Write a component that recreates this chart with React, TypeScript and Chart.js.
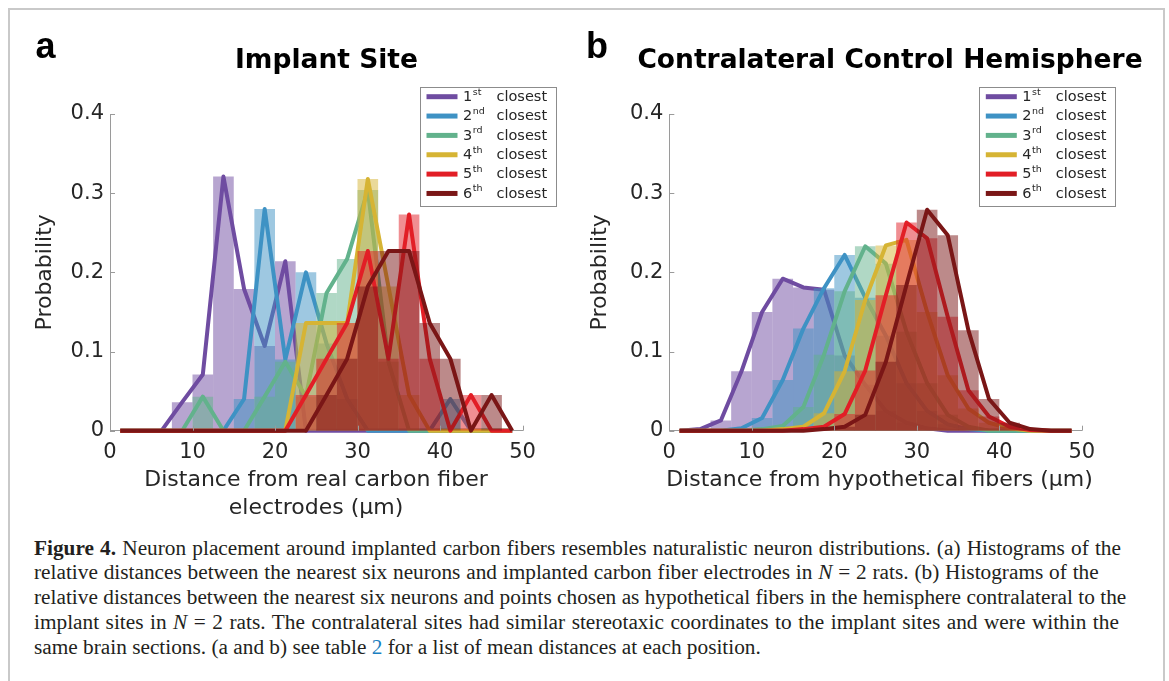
import React, { useEffect, useRef } from 'react';
import { Chart, registerables } from 'chart.js';

Chart.register(...registerables);

// ---------- data ----------
const binCenters = [1.25, 3.75, 6.25, 8.75, 11.25, 13.75, 16.25, 18.75, 21.25, 23.75, 26.25, 28.75, 31.25, 33.75, 36.25, 38.75, 41.25, 43.75, 46.25, 48.75];

const seriesNumbers = ['1', '2', '3', '4', '5', '6'];
const seriesSuffixes = ['st', 'nd', 'rd', 'th', 'th', 'th'];
const seriesWord = 'closest';
const seriesRGB = [
  [111, 76, 161],
  [62, 146, 196],
  [98, 178, 140],
  [214, 180, 52],
  [226, 30, 38],
  [122, 22, 22],
];

const yTickValues = [0, 0.1, 0.2, 0.3, 0.4];
const xTickValues = [0, 10, 20, 30, 40, 50];

// Panel a: implant site
const implant1st = [0, 0, 0, 0.036, 0.071, 0.321, 0.179, 0.107, 0.214, 0, 0, 0, 0, 0, 0, 0, 0, 0, 0, 0];
const implant2nd = [0, 0, 0, 0, 0, 0, 0.04, 0.28, 0.09, 0.2, 0.11, 0.04, 0, 0, 0, 0, 0.04, 0, 0, 0];
const implant3rd = [0, 0, 0, 0, 0.043, 0, 0, 0.043, 0.087, 0.043, 0.174, 0.217, 0.304, 0.087, 0, 0, 0, 0, 0, 0];
const implant4th = [0, 0, 0, 0, 0, 0, 0, 0, 0, 0.136, 0.136, 0.136, 0.318, 0.182, 0.045, 0, 0, 0, 0, 0];
const implant5th = [0, 0, 0, 0, 0, 0, 0, 0, 0, 0.045, 0.091, 0.136, 0.227, 0.091, 0.273, 0.091, 0, 0.045, 0, 0];
const implant6th = [0, 0, 0, 0, 0, 0, 0, 0, 0, 0, 0.045, 0.091, 0.182, 0.227, 0.227, 0.136, 0.091, 0, 0.045, 0];

// Panel b: contralateral control hemisphere
const contra1st = [0, 0.002, 0.013, 0.075, 0.15, 0.192, 0.181, 0.178, 0.095, 0.058, 0.025, 0.01, 0.003, 0, 0, 0, 0, 0, 0, 0];
const contra2nd = [0, 0, 0, 0.003, 0.016, 0.064, 0.129, 0.18, 0.222, 0.168, 0.12, 0.06, 0.025, 0.008, 0.002, 0, 0, 0, 0, 0];
const contra3rd = [0, 0, 0, 0, 0.002, 0.006, 0.03, 0.096, 0.176, 0.233, 0.211, 0.125, 0.06, 0.02, 0.005, 0, 0, 0, 0, 0];
const contra4th = [0, 0, 0, 0, 0, 0.002, 0.005, 0.022, 0.075, 0.165, 0.234, 0.241, 0.15, 0.07, 0.028, 0.01, 0.003, 0, 0, 0];
const contra5th = [0, 0, 0, 0, 0, 0, 0.002, 0.005, 0.021, 0.076, 0.171, 0.263, 0.243, 0.144, 0.051, 0.018, 0.005, 0.001, 0, 0];
const contra6th = [0, 0, 0, 0, 0, 0, 0, 0.002, 0.005, 0.02, 0.087, 0.184, 0.279, 0.247, 0.127, 0.04, 0.01, 0.002, 0, 0];

// ---------- style ----------
const FONT = '"DejaVu Sans", Verdana, sans-serif';
const TEXT = '#262626';
const AXIS = '#9a9a9a';

type Box = { l: number; t: number; r: number; b: number };

const rgba = (c: number[], a: number) => `rgba(${c[0]},${c[1]},${c[2]},${a})`;

function buildDatasets(series: number[][]) {
  const ds: any[] = [];
  series.forEach((vals, i) => {
    const pts = binCenters.map((x, k) => ({ x, y: vals[k] }));
    ds.push({
      type: 'bar',
      data: pts,
      backgroundColor: rgba(seriesRGB[i], 0.5),
      borderWidth: 0,
      grouped: false,
      barPercentage: 1,
      categoryPercentage: 1,
      inflateAmount: 0,
      order: 2 * (5 - i) + 1,
    });
    ds.push({
      type: 'line',
      data: pts,
      borderColor: rgba(seriesRGB[i], 1),
      borderWidth: 4,
      borderJoinStyle: 'round',
      pointRadius: 0,
      fill: false,
      tension: 0,
      clip: false,
      order: 2 * (5 - i),
    });
  });
  return ds;
}

interface PanelProps {
  left: number;
  top: number;
  width: number;
  height: number;
  area: Box;
  series: number[][];
  title: string;
  titleX: number;
  titleY: number;
  yTitleX: number;
  xTitleLines: string[];
  xTitleX: number;
  xTitleY: number;
  letter: string;
  letterX: number;
  letterY: number;
}

function Panel(p: PanelProps) {
  const ref = useRef<HTMLCanvasElement>(null);
  useEffect(() => {
    const canvas = ref.current;
    if (!canvas) return;
    const aL = p.area.l - p.left;
    const aT = p.area.t - p.top;
    const aR = p.area.r - p.left;
    const aB = p.area.b - p.top;
    const ox = p.left;
    const oy = p.top;

    const deco = {
      id: 'deco',
      afterDraw(chart: any) {
        const ctx = chart.ctx as CanvasRenderingContext2D;
        const a = chart.chartArea;
        const ys = chart.scales.y;
        const xs = chart.scales.x;
        ctx.save();
        // inward ticks
        ctx.strokeStyle = AXIS;
        ctx.lineWidth = 1;
        ctx.beginPath();
        yTickValues.forEach((v) => {
          const y = Math.round(ys.getPixelForValue(v)) + 0.5;
          ctx.moveTo(a.left, y);
          ctx.lineTo(a.left + 5, y);
        });
        xTickValues.forEach((v) => {
          const x = Math.round(xs.getPixelForValue(v)) + 0.5;
          ctx.moveTo(x, a.bottom);
          ctx.lineTo(x, a.bottom - 5);
        });
        ctx.stroke();

        // title
        ctx.fillStyle = '#000';
        ctx.font = `bold 26.5px ${FONT}`;
        ctx.textAlign = 'center';
        ctx.textBaseline = 'middle';
        ctx.fillText(p.title, p.titleX - ox, p.titleY - oy);

        // panel letter
        ctx.font = 'bold 36px "Liberation Sans", Arial, sans-serif';
        ctx.textAlign = 'left';
        ctx.textBaseline = 'alphabetic';
        ctx.fillText(p.letter, p.letterX - ox, p.letterY - oy);

        // y title
        ctx.save();
        ctx.translate(p.yTitleX - ox, (a.top + a.bottom) / 2);
        ctx.rotate(-Math.PI / 2);
        ctx.font = `22px ${FONT}`;
        ctx.fillStyle = TEXT;
        ctx.textAlign = 'center';
        ctx.textBaseline = 'middle';
        ctx.fillText('Probability', 0, 0);
        ctx.restore();

        // x title
        ctx.font = `22px ${FONT}`;
        ctx.fillStyle = TEXT;
        ctx.textAlign = 'center';
        ctx.textBaseline = 'middle';
        p.xTitleLines.forEach((line, i) => {
          ctx.fillText(line, p.xTitleX - ox, p.xTitleY - oy + i * 28);
        });

        // legend
        const lx = a.right - 103;
        const ly = a.top - 27.5;
        const lw = 135.5;
        const lh = 118.5;
        ctx.fillStyle = '#fff';
        ctx.fillRect(lx, ly, lw, lh);
        ctx.strokeStyle = '#8c8c8c';
        ctx.lineWidth = 1;
        ctx.strokeRect(Math.round(lx) + 0.5, Math.round(ly) + 0.5, Math.round(lw), Math.round(lh));
        ctx.textAlign = 'left';
        ctx.textBaseline = 'middle';
        for (let i = 0; i < 6; i++) {
          const cy = ly + 10.2 + i * 19.35;
          ctx.strokeStyle = rgba(seriesRGB[i], 1);
          ctx.lineWidth = 5;
          ctx.beginPath();
          ctx.moveTo(lx + 7, cy);
          ctx.lineTo(lx + 38, cy);
          ctx.stroke();
          ctx.fillStyle = TEXT;
          ctx.font = `14.5px ${FONT}`;
          ctx.fillText(seriesNumbers[i], lx + 43.5, cy + 0.5);
          const nw = ctx.measureText(seriesNumbers[i]).width;
          ctx.font = `9.5px ${FONT}`;
          ctx.fillText(seriesSuffixes[i], lx + 44 + nw, cy - 4.5);
          ctx.font = `14.5px ${FONT}`;
          ctx.fillText(seriesWord, lx + 77, cy + 0.5);
        }
        ctx.restore();
      },
    };

    const chart = new Chart(canvas, {
      type: 'bar',
      data: { datasets: buildDatasets(p.series) },
      options: {
        responsive: false,
        animation: false,
        devicePixelRatio: 1,
        events: [],
        layout: { padding: { left: 0, top: aT, right: p.width - aR, bottom: 0 } },
        plugins: {
          legend: { display: false },
          tooltip: { enabled: false },
          title: { display: false },
        },
        scales: {
          x: {
            type: 'linear',
            min: 0,
            max: 50,
            offset: false,
            grid: { display: false, drawTicks: false, offset: false },
            border: { display: true, color: AXIS, width: 1 },
            ticks: {
              stepSize: 10,
              autoSkip: false,
              maxRotation: 0,
              padding: 9,
              color: TEXT,
              font: { family: FONT, size: 21 },
              callback: (v: any) => String(v),
            },
            afterFit: (s: any) => {
              s.height = p.height - aB;
            },
          },
          y: {
            type: 'linear',
            min: 0,
            max: 0.4,
            grid: { display: false, drawTicks: false },
            border: { display: true, color: AXIS, width: 1 },
            ticks: {
              stepSize: 0.1,
              padding: 6,
              color: TEXT,
              font: { family: FONT, size: 21 },
              callback: (v: any) => (Number(v) === 0 ? '0' : Number(v).toFixed(1)),
            },
            afterFit: (s: any) => {
              s.width = aL;
            },
          },
        },
      } as any,
      plugins: [deco],
    });
    return () => chart.destroy();
  }, []);
  return (
    <canvas
      ref={ref}
      width={p.width}
      height={p.height}
      style={{ position: 'absolute', left: p.left, top: p.top, width: p.width, height: p.height }}
    />
  );
}

const captionLineStyle: React.CSSProperties = {
  position: 'absolute',
  left: 34,
  whiteSpace: 'nowrap',
  fontFamily: '"Liberation Serif", "Times New Roman", serif',
  fontSize: 21.3,
  lineHeight: '24.75px',
  height: 24.75,
  color: '#231f20',
};

function Caption() {
  const top0 = 535.6;
  const lh = 24.75;
  return (
    <>
      <div style={{ ...captionLineStyle, top: top0, wordSpacing: 0.85 }}>
        <b>Figure 4.</b> Neuron placement around implanted carbon fibers resembles naturalistic neuron distributions. (a) Histograms of the
      </div>
      <div style={{ ...captionLineStyle, top: top0 + lh, wordSpacing: 0.5 }}>
        relative distances between the nearest six neurons and implanted carbon fiber electrodes in <i>N</i> = 2 rats. (b) Histograms of the
      </div>
      <div style={{ ...captionLineStyle, top: top0 + 2 * lh, wordSpacing: 0.1 }}>
        relative distances between the nearest six neurons and points chosen as hypothetical fibers in the hemisphere contralateral to the
      </div>
      <div style={{ ...captionLineStyle, top: top0 + 3 * lh, wordSpacing: 1.2 }}>
        implant sites in <i>N</i> = 2 rats. The contralateral sites had similar stereotaxic coordinates to the implant sites and were within the
      </div>
      <div style={{ ...captionLineStyle, top: top0 + 4 * lh }}>
        same brain sections. (a and b) see table <span style={{ color: '#1a7fc1' }}>2</span> for a list of mean distances at each position.
      </div>
    </>
  );
}

export default function App() {
  return (
    <div
      style={{
        position: 'absolute',
        left: 0,
        top: 0,
        width: 1169,
        height: 681,
        overflow: 'hidden',
        background: '#fff',
      }}
    >
      <div
        style={{
          position: 'absolute',
          left: 8,
          top: 8,
          width: 1157,
          height: 720,
          border: '2px solid #c9c9c9',
          boxSizing: 'border-box',
        }}
      />
      <Panel
        left={10}
        top={10}
        width={560}
        height={520}
        area={{ l: 110, t: 114, r: 522.5, b: 430.7 }}
        series={[implant1st, implant2nd, implant3rd, implant4th, implant5th, implant6th]}
        title="Implant Site"
        titleX={326.5}
        titleY={61}
        yTitleX={45}
        xTitleLines={['Distance from real carbon fiber', 'electrodes (µm)']}
        xTitleX={316}
        xTitleY={480}
        letter="a"
        letterX={35.5}
        letterY={58}
      />
      <Panel
        left={569}
        top={10}
        width={590}
        height={520}
        area={{ l: 669.3, t: 114, r: 1081.8, b: 430.7 }}
        series={[contra1st, contra2nd, contra3rd, contra4th, contra5th, contra6th]}
        title="Contralateral Control Hemisphere"
        titleX={890}
        titleY={61}
        yTitleX={600}
        xTitleLines={['Distance from hypothetical fibers (µm)']}
        xTitleX={879.5}
        xTitleY={480}
        letter="b"
        letterX={586}
        letterY={58}
      />
      <Caption />
    </div>
  );
}
